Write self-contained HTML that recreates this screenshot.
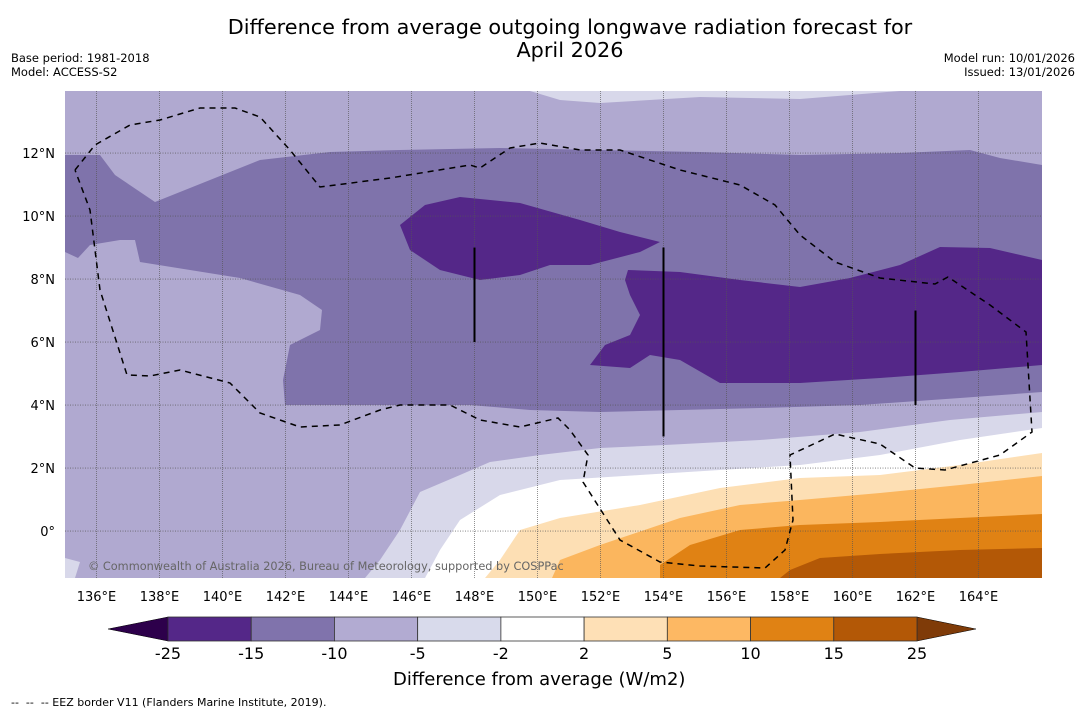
<!DOCTYPE html>
<html><head><meta charset="utf-8"><style>
body{margin:0;background:#fff;width:1085px;height:713px;overflow:hidden;font-family:"DejaVu Sans","Liberation Sans",sans-serif}
svg{position:absolute;left:0;top:0}
</style></head><body>
<svg id="s" width="1085" height="713">
<text x="570" y="34" font-size="20.8" text-anchor="middle">Difference from average outgoing longwave radiation forecast for</text>
<text x="570" y="57" font-size="20.8" text-anchor="middle">April 2026</text>
<text x="11" y="62" font-size="11.5">Base period: 1981-2018</text>
<text x="11" y="76" font-size="11.5">Model: ACCESS-S2</text>
<text x="1075" y="62" font-size="11.5" text-anchor="end">Model run: 10/01/2026</text>
<text x="1075" y="76" font-size="11.5" text-anchor="end">Issued: 13/01/2026</text>
<defs><clipPath id="mc"><rect x="65" y="91" width="977" height="487"/></clipPath></defs>
<g id="map" clip-path="url(#mc)"></g>
<g id="ax"></g>
<text x="393" y="685" font-size="18">Difference from average (W/m2)</text>
<text x="11" y="706" font-size="11" xml:space="preserve">--  --  -- EEZ border V11 (Flanders Marine Institute, 2019).</text>
</svg>
<script>
const lonMin=135, latMax=13.97, ppd=31.5, mx0=65, my0=91;
const X=lon=>mx0+(lon-lonMin)*ppd, Y=lat=>my0+(latMax-lat)*ppd;
const invX=px=>lonMin+(px-mx0)/ppd, invY=py=>latMax-(py-my0)/ppd;
const lonTicks=[136,138,140,142,144,146,148,150,152,154,156,158,160,162,164];
const latTicks=[12,10,8,6,4,2,0];
const levels=["-25","-15","-10","-5","-2","2","5","10","15","25"];
const levelColors=["#542788","#8073ac","#b2abd2","#d8daeb","#ffffff","#fee0b6","#fdb863","#e08214","#b35806"];
const tr=a=>a.map(p=>[invX(p[0]),invY(p[1])]);
const regions=[
 {c:"#b0a9d0",p:tr([[65,91],[1042,91],[1042,578],[65,578]])},
 {c:"#d8d8ea",p:tr([[530,91],[560,100],[600,103],[700,97],[800,99],[900,91]])},
 {c:"#d8d8ea",p:tr([[1042,412],[950,420],[860,432],[760,440],[665,445],[600,448],[540,455],[490,462],[460,475],[420,492],[400,530],[380,560],[365,578],[1042,578]])},
 {c:"#d8d8ea",p:tr([[65,558],[80,562],[75,578],[65,578]])},
 {c:"#ffffff",p:tr([[1042,428],[960,440],[880,455],[800,465],[720,470],[640,475],[560,480],[500,495],[460,520],[440,550],[425,578],[1042,578]])},
 {c:"#fddfb4",p:tr([[1042,453],[960,465],[880,475],[800,478],[720,488],[640,505],[560,518],[520,530],[500,560],[485,578],[1042,578]])},
 {c:"#fbb65e",p:tr([[1042,476],[960,485],[880,493],[800,500],[740,505],[680,518],[600,545],[560,560],[552,578],[1042,578]])},
 {c:"#e08214",p:tr([[1042,514],[960,518],[880,522],[800,525],[740,530],[690,545],[660,565],[660,578],[1042,578]])},
 {c:"#b35806",p:tr([[1042,548],[960,550],[880,554],[820,558],[790,570],[780,578],[1042,578]])},
 {c:"#7f73ab",p:tr([[65,155],[100,155],[115,175],[155,202],[210,180],[260,160],[330,152],[400,150],[500,148],[600,150],[700,152],[800,155],[900,153],[970,150],[1000,158],[1042,165],[1042,392],[960,398],[860,405],[760,408],[680,410],[600,412],[530,410],[470,405],[400,405],[340,405],[285,405],[283,380],[290,345],[320,330],[322,310],[300,295],[240,278],[190,270],[140,262],[135,240],[120,240],[90,245],[78,258],[65,252]])},
 {c:"#542788",p:tr([[400,225],[425,205],[460,197],[520,203],[580,220],[620,232],[660,242],[640,252],[590,265],[550,265],[520,275],[480,280],[440,270],[410,250]])},
 {c:"#542788",p:tr([[628,270],[680,272],[740,280],[800,287],[850,278],[900,265],[940,247],[990,248],[1042,260],[1042,365],[960,372],[880,378],[800,383],[720,383],[680,360],[650,355],[630,368],[590,365],[605,345],[630,335],[640,315],[630,295],[625,280]])}
];
const eez=tr([[75,170],[95,145],[130,125],[160,120],[200,108],[235,108],[260,117],[290,150],[320,187],[390,178],[470,165],[480,168],[510,148],[540,143],[580,150],[620,150],[680,170],[740,185],[775,205],[800,235],[835,262],[880,278],[935,284],[948,277],[990,305],[1026,332],[1032,432],[1000,455],[945,470],[915,468],[880,444],[835,434],[790,455],[793,520],[785,550],[765,568],[700,566],[660,562],[620,540],[583,482],[588,455],[570,430],[558,418],[520,427],[480,420],[450,405],[400,405],[380,410],[340,425],[300,427],[260,413],[230,383],[180,370],[150,376],[127,375],[100,290],[90,210],[75,170]]);
const vlines=[[148,9.0,6.0],[154,9.0,3.0],[162,7.0,4.0]];
const NS="http://www.w3.org/2000/svg";
function mk(t,a,par){const e=document.createElementNS(NS,t);for(const k in a)e.setAttribute(k,a[k]);par.appendChild(e);return e;}
const map=document.getElementById('map'),ax=document.getElementById('ax'),svg=document.getElementById('s');
regions.forEach((r,i)=>{
 const e=mk('polygon',{points:r.p.map(q=>X(q[0])+','+Y(q[1])).join(' '),fill:r.c},map);
 
 
});
lonTicks.forEach(l=>{
 const e=mk('line',{x1:X(l),x2:X(l),y1:91,y2:578,stroke:'#555','stroke-width':0.8,'stroke-dasharray':'1,1',opacity:0.8},map);
 
 
 const t=mk('text',{x:X(l),y:601,'font-size':13,'text-anchor':'middle'},ax);t.textContent=l+'°E';
 
 
});
latTicks.forEach(l=>{
 const e=mk('line',{x1:65,x2:1042,y1:Y(l),y2:Y(l),stroke:'#555','stroke-width':0.8,'stroke-dasharray':'1,1.5',opacity:0.8},map);
 
 
 const t=mk('text',{x:55,y:Y(l)+5,'font-size':13,'text-anchor':'end'},ax);t.textContent=l===0?'0°':l+'°N';
 
 
});
const ez=mk('polyline',{points:eez.map(q=>X(q[0])+','+Y(q[1])).join(' '),fill:'none',stroke:'#000','stroke-width':1.5,'stroke-dasharray':'6,5'},map);


vlines.forEach(v=>{
 const e=mk('line',{x1:X(v[0]),x2:X(v[0]),y1:Y(v[1]),y2:Y(v[2]),stroke:'#000','stroke-width':2},map);
 
 
});
const cp=mk('text',{x:88,y:570,'font-size':11.3,fill:'#666'},map);cp.textContent='© Commonwealth of Australia 2026, Bureau of Meteorology, supported by COSPPac';


// colorbar
const cbL=168,cbR=917,cbT=617,cbB=641,w=(cbR-cbL)/levelColors.length;
const t1=mk('polygon',{points:`108,629 ${cbL},${cbT} ${cbL},${cbB}`,fill:'#2d004b',stroke:'#000','stroke-width':0.5},svg);


const t2=mk('polygon',{points:`976,629 ${cbR},${cbT} ${cbR},${cbB}`,fill:'#7f3b08',stroke:'#000','stroke-width':0.5},svg);


levelColors.forEach((c,i)=>{
 const e=mk('rect',{x:cbL+i*w,y:cbT,width:w,height:cbB-cbT,fill:c,stroke:'#333','stroke-width':0.8},svg);
 
 
});
levels.forEach((l,i)=>{
 const t=mk('text',{x:cbL+i*w,y:659,'font-size':16,'text-anchor':'middle'},svg);t.textContent=l;
 
 
});
</script>
</body></html>
